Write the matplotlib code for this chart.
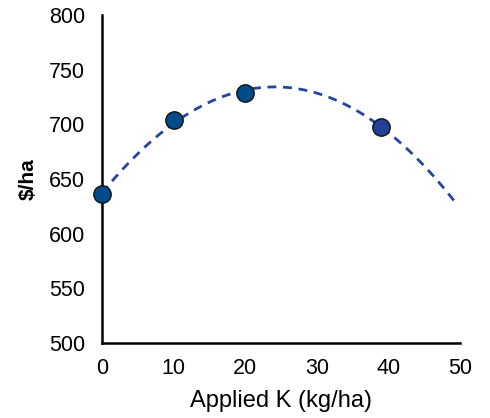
import numpy as np
import matplotlib
matplotlib.use("Agg")
import matplotlib.pyplot as plt

plt.rcParams['font.family'] = ['Liberation Sans', 'DejaVu Sans']

applied_k = [0, 10, 20, 39]
dollars = [636, 704, 729, 698]
point_colors = ['#004C8A', '#004C8A', '#004C8A', '#233F96']
x_ticks = [0, 10, 20, 30, 40, 50]
y_ticks = [500, 550, 600, 650, 700, 750, 800]

fig = plt.figure(figsize=(4.9, 4.18), dpi=100)
ax = fig.add_axes([0.2082, 0.1794, 0.7306, 0.7847])

coef = np.polyfit(applied_k, dollars, 2)
xs = np.linspace(0, 49.5, 200)
ax.plot(xs, np.polyval(coef, xs), linestyle=(0, (3.2, 2.4)), color='#2444A0', lw=2.0, zorder=2)

for x, y, c in zip(applied_k, dollars, point_colors):
    ax.plot(x, y, 'o', ms=12.5, mfc=c, mec='#111111', mew=1.0, zorder=3, clip_on=False)

ax.set_xlim(0, 50)
ax.set_ylim(500, 800)
ax.set_xticks(x_ticks)
ax.set_yticks(y_ticks)
ax.tick_params(length=0, labelsize=15.5)
ax.tick_params(axis='y', pad=12)
ax.tick_params(axis='x', pad=11)
for s in ['top', 'right']:
    ax.spines[s].set_visible(False)
for s in ['left', 'bottom']:
    ax.spines[s].set_linewidth(1.8)
    ax.spines[s].set_color('black')

ax.set_xlabel('Applied K (kg/ha)', fontsize=17, labelpad=8)
ax.set_ylabel('$/ha', fontsize=15, fontweight='bold', labelpad=8)

fig.savefig('out.png', dpi=100)
